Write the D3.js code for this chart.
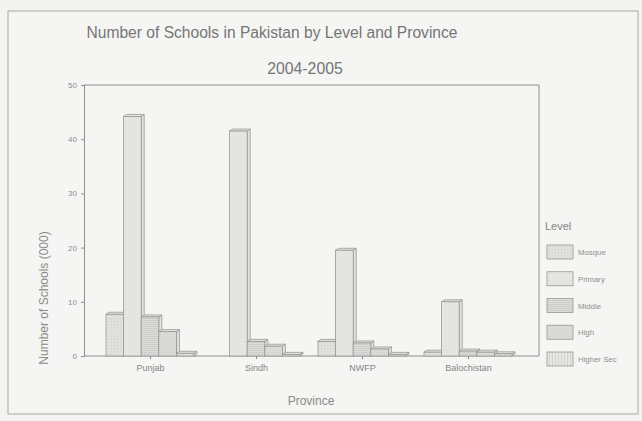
<!DOCTYPE html>
<html>
<head>
<meta charset="utf-8">
<script src="https://cdn.jsdelivr.net/npm/d3@7"></script>
<style>
  html, body { margin: 0; padding: 0; background: #f3f3f1; }
  svg { display: block; font-family: "Liberation Sans", Arial, sans-serif; }
</style>
</head>
<body>
<svg id="chart" width="642" height="421"></svg>
<script>
// ---- data ----
const provinces = ["Punjab", "Sindh", "NWFP", "Balochistan"];
const levels = ["Mosque", "Primary", "Middle", "High", "Higher Sec"];
const mosque    = [7.7, 0,    2.7, 0.7];
const primary   = [44.2, 41.5, 19.5, 10.0];
const middle    = [7.2, 2.7,  2.4, 0.9];
const high      = [4.5, 1.8,  1.3, 0.7];
const higherSec = [0.5, 0.3,  0.3, 0.4];
const yTicks = [0, 10, 20, 30, 40, 50];
const titleText = "Number of Schools in Pakistan by Level and Province";
const subtitleText = "2004-2005";
const yTitle = "Number of Schools (000)";
const xTitle = "Province";
const legendTitle = "Level";

const seriesValues = [mosque, primary, middle, high, higherSec];
const rows = [];
provinces.forEach((p, i) => levels.forEach((l, j) => rows.push({ province: p, level: l, value: seriesValues[j][i] })));

const svg = d3.select("#chart");
const textCol = "#767676";
const lineCol = "#8e8e8e";
const barStroke = "#979795";

// patterns
const defs = svg.append("defs");
function pat(id, size, bg, draw) {
  const p = defs.append("pattern").attr("id", id).attr("patternUnits", "userSpaceOnUse")
    .attr("width", size).attr("height", size);
  p.append("rect").attr("width", size).attr("height", size).attr("fill", bg);
  draw(p);
}
pat("p-mosque", 3, "#e0e0de", p => { p.append("rect").attr("x", 0).attr("y", 0).attr("width", 1).attr("height", 1).attr("fill", "#d0d0ce"); });
pat("p-primary", 4, "#e5e5e3", p => { p.append("rect").attr("x", 1).attr("y", 1).attr("width", 1).attr("height", 1).attr("fill", "#d8d8d6"); });
pat("p-middle", 2, "#e2e2e0", p => {
  p.append("rect").attr("x", 0).attr("y", 0).attr("width", 2).attr("height", 1).attr("fill", "#c8c8c6");
  p.append("rect").attr("x", 0).attr("y", 0).attr("width", 1).attr("height", 2).attr("fill", "#d4d4d2");
});
pat("p-high", 2, "#dcdcda", p => { p.append("rect").attr("x", 0).attr("y", 0).attr("width", 1).attr("height", 1).attr("fill", "#d0d0ce"); });
pat("p-hs", 3, "#e6e6e4", p => { p.append("rect").attr("x", 0).attr("y", 0).attr("width", 1).attr("height", 3).attr("fill", "#d3d3d1"); });
const fills = d3.scaleOrdinal().domain(levels).range(["url(#p-mosque)", "url(#p-primary)", "url(#p-middle)", "url(#p-high)", "url(#p-hs)"]);

// outer frame
svg.append("rect").attr("x", 8).attr("y", 11).attr("width", 630).attr("height", 403)
  .attr("fill", "#f5f5f3").attr("stroke", "#a8a8a8").attr("stroke-width", 1);

// scales
const y = d3.scaleLinear().domain([0, 50]).range([356, 85]);
const x0 = d3.scalePoint().domain(provinces).range([150, 468]);
const x1 = d3.scaleBand().domain(levels).range([-44, 44]);

const plotL = 84, plotR = 539, plotT = y(50), plotB = y(0);

// plot frame (top and right)
svg.append("path").attr("d", `M${plotL},${plotT}H${plotR}V${plotB}`)
  .attr("fill", "none").attr("stroke", lineCol).attr("stroke-width", 1);

// y axis
const yAxis = svg.append("g").attr("transform", `translate(${plotL},0)`)
  .call(d3.axisLeft(y).tickValues(yTicks).tickSize(3).tickPadding(4));
yAxis.selectAll("path, line").attr("stroke", lineCol);
yAxis.selectAll("text").attr("fill", "#8e8e8e").attr("font-size", 8).attr("font-family", "Liberation Sans, Arial, sans-serif");

// x axis
const xAxis = svg.append("g").attr("transform", `translate(0,${plotB})`)
  .call(d3.axisBottom(x0).tickSize(3).tickPadding(6).tickSizeOuter(0));
xAxis.select(".domain").attr("d", `M${plotL},0H${plotR}`).attr("stroke", lineCol);
xAxis.selectAll("line").attr("stroke", lineCol);
xAxis.selectAll("text").attr("fill", "#858585").attr("font-size", 9).attr("font-family", "Liberation Sans, Arial, sans-serif");

// 3D bars
const dx = 3, dy = -2;
const bars = svg.append("g");
rows.filter(d => d.value > 0).forEach(d => {
  const bx = x0(d.province) + x1(d.level);
  const w = x1.bandwidth();
  const top = y(d.value), base = y(0);
  const g = bars.append("g");
  g.append("path")
    .attr("d", `M${bx + w},${top}L${bx + w + dx},${top + dy}L${bx + w + dx},${base + dy}L${bx + w},${base}Z`)
    .attr("fill", "#e2e2e0").attr("stroke", barStroke).attr("stroke-width", 0.8);
  g.append("path")
    .attr("d", `M${bx},${top}L${bx + dx},${top + dy}L${bx + w + dx},${top + dy}L${bx + w},${top}Z`)
    .attr("fill", "#e8e8e6").attr("stroke", barStroke).attr("stroke-width", 0.8);
  g.append("rect").attr("x", bx).attr("y", top).attr("width", w).attr("height", base - top)
    .attr("fill", fills(d.level)).attr("stroke", barStroke).attr("stroke-width", 0.8);
});

// titles
svg.append("text").attr("x", 272).attr("y", 38).attr("text-anchor", "middle")
  .attr("font-size", 15.6).attr("fill", textCol).text(titleText);
svg.append("text").attr("x", 305).attr("y", 74).attr("text-anchor", "middle")
  .attr("font-size", 15.8).attr("fill", textCol).text(subtitleText);
svg.append("text").attr("transform", "translate(48,298) rotate(-90)").attr("text-anchor", "middle")
  .attr("font-size", 12).attr("fill", "#8a8a8a").text(yTitle);
svg.append("text").attr("x", 311).attr("y", 405).attr("text-anchor", "middle")
  .attr("font-size", 12).attr("fill", "#8a8a8a").text(xTitle);

// legend
const lg = svg.append("g");
lg.append("text").attr("x", 545).attr("y", 230).attr("font-size", 11).attr("fill", "#858585").text(legendTitle);
const ly = d3.scalePoint().domain(levels).range([245, 352]);
levels.forEach(l => {
  lg.append("rect").attr("x", 547).attr("y", ly(l)).attr("width", 26).attr("height", 14)
    .attr("fill", fills(l)).attr("stroke", barStroke).attr("stroke-width", 0.8);
  lg.append("text").attr("x", 578).attr("y", ly(l) + 10).attr("font-size", 7.8).attr("fill", "#8e8e8e").text(l);
});
</script>
</body>
</html>
